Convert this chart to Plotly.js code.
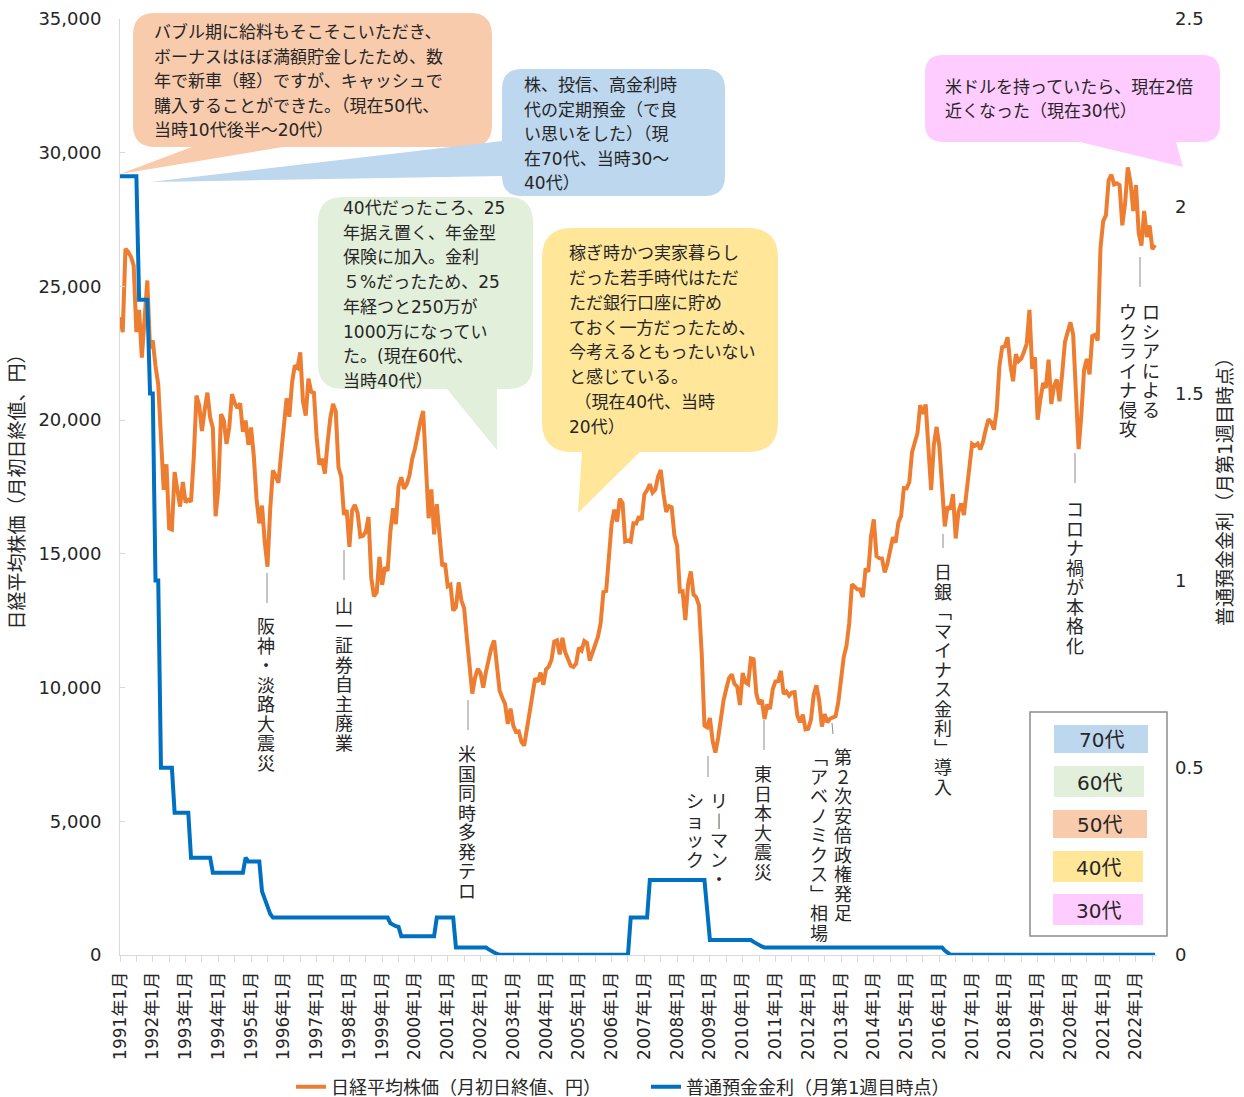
<!DOCTYPE html>
<html>
<head>
<meta charset="utf-8">
<script src="https://cdn.plot.ly/plotly-3.0.1.min.js"></script>
<style>
html,body{margin:0;padding:0;background:#fff;}
#chart{width:1244px;height:1097px;}
</style>
</head>
<body>
<div id="chart"></div>
<script>
// ---------------- DATA ----------------
// Nikkei 225, value at the start of each month (yen), Jan 1991 - Aug 2022
const nikkei1990s = [
  23849, 23293, 26409, 26292, 26111, 25790, 23291, 24120, 22335, 23916, 25222, 22687, // 1991
  22984, 22023, 21339, 19346, 17391, 18348, 15952, 15910, 18061, 17399, 16767, 17684, // 1992
  16925, 17023, 16953, 18591, 20919, 20552, 19590, 20380, 21028, 20106, 19703, 16408, // 1993
  17417, 20229, 19997, 19112, 19725, 20974, 20644, 20449, 20629, 19564, 19989, 19076, // 1994
  19723, 18650, 17053, 16140, 16807, 15437, 14517, 16678, 18117, 17913, 17655, 18744, // 1995
  19868, 20813, 20125, 21407, 22041, 21956, 22531, 20693, 20167, 21556, 21062, 21020, // 1996
  19361, 18330, 18557, 18003, 19151, 20069, 20605, 20331, 18229, 17888, 16459, 16636, // 1997
  15259, 16628, 16831, 16527, 15641, 15671, 15830, 16379, 14108, 13406, 13564, 14884, // 1998
  13842, 14499, 14368, 15837, 16702, 16112, 17530, 17862, 17437, 17606, 17942, 18558  // 1999
];
const nikkei2000s = [
  18934, 19540, 19960, 20337, 17974, 16332, 17411, 15727, 16861, 15747, 14539, 14649, // 2000
  13785, 13843, 12883, 12999, 13934, 13262, 12969, 11860, 10713,  9775, 10366, 10697, // 2001
  10543,  9997, 10588, 11025, 11493, 11764, 10622,  9878,  9620,  9383,  8640,  9216, // 2002
   8579,  8340,  8363,  7973,  7831,  8425,  9083,  9563, 10344, 10219, 10560, 10101, // 2003
  10677, 10784, 11042, 11715, 11762, 11237, 11859, 11326, 11082, 10824, 10771, 10899, // 2004
  11489, 11388, 11741, 11669, 11009, 11277, 11584, 11900, 12414, 13574, 13607, 14872, // 2005
  16111, 16650, 16205, 17060, 16906, 15467, 15505, 15457, 16141, 16128, 16399, 16274, // 2006
  17226, 17383, 17604, 17288, 17400, 17876, 18138, 17249, 16569, 16786, 16738, 15681, // 2007
  15308, 13592, 13603, 12526, 13850, 14339, 13481, 13377, 13073, 11260,  8577,  8512, // 2008
   8860,  7994,  7568,  8110,  8828,  9523,  9958, 10357, 10493, 10133, 10035,  9346  // 2009
];
const nikkei2010s = [
  10546, 10198, 10126, 11090, 11057,  9769,  9383,  9537,  8824,  9369,  9202,  9937, // 2010
  10229, 10238, 10624,  9755,  9850,  9694,  9816,  9833,  8955,  8700,  8988,  8434, // 2011
   8455,  8803,  9723, 10084,  9521,  8543,  9007,  8695,  8840,  8870,  8928,  9446, // 2012
  10395, 11139, 11559, 12398, 13861, 13775, 13677, 13668, 13389, 14456, 14328, 15662, // 2013
  16291, 14915, 14841, 14828, 14304, 14632, 15162, 15621, 15425, 16174, 16414, 17460, // 2014
  17451, 17674, 18798, 19207, 19520, 20563, 20236, 20585, 18890, 17388, 19083, 19747, // 2015
  19034, 17518, 16027, 16759, 16666, 17235, 15576, 16569, 16887, 16450, 17425, 18308, // 2016
  19114, 19041, 19119, 18909, 19197, 19651, 20033, 19925, 19646, 20356, 22012, 22725, // 2017
  22765, 23098, 22068, 21454, 22468, 22202, 22305, 22554, 22865, 24120, 21920, 22351, // 2018
  20015, 20773, 21385, 21206, 22259, 20601, 21276, 21521, 20704, 21756, 22927, 23294  // 2019
];
const nikkei2020s = [
  23657, 23205, 21143, 18917, 20194, 21878, 22288, 21710, 23140, 23185, 22977, 26434, // 2020
  27444, 27663, 28966, 29179, 28813, 28860, 28792, 27284, 28090, 29453, 28893, 27822, // 2021
  28792, 27002, 26527, 27821, 26848, 27280, 26393, 26550                              // 2022
];

// Ordinary deposit interest rate (%), first week of each month
const rate1990s = [
  2.08, 2.08, 2.08, 2.08, 2.08, 2.08, 2.08, 1.75, 1.75, 1.75, 1.75, 1.5,  // 1991
  1.5, 1.0, 1.0, 0.5, 0.5, 0.5, 0.5, 0.5, 0.38, 0.38, 0.38, 0.38,        // 1992
  0.38, 0.38, 0.26, 0.26, 0.26, 0.26, 0.26, 0.26, 0.26, 0.26, 0.22, 0.22, // 1993
  0.22, 0.22, 0.22, 0.22, 0.22, 0.22, 0.22, 0.22, 0.22, 0.22, 0.26, 0.25, // 1994
  0.25, 0.25, 0.25, 0.25, 0.17, 0.15, 0.13, 0.11, 0.1, 0.1, 0.1, 0.1,     // 1995
  0.1, 0.1, 0.1, 0.1, 0.1, 0.1, 0.1, 0.1, 0.1, 0.1, 0.1, 0.1,             // 1996
  0.1, 0.1, 0.1, 0.1, 0.1, 0.1, 0.1, 0.1, 0.1, 0.1, 0.1, 0.1,             // 1997
  0.1, 0.1, 0.1, 0.1, 0.1, 0.1, 0.1, 0.1, 0.1, 0.1, 0.1, 0.1,             // 1998
  0.1, 0.1, 0.1, 0.085, 0.08, 0.077, 0.075, 0.05, 0.05, 0.05, 0.05, 0.05  // 1999
];
const rate2000s = [
  0.05, 0.05, 0.05, 0.05, 0.05, 0.05, 0.05, 0.05, 0.1, 0.1, 0.1, 0.1,                 // 2000
  0.1, 0.1, 0.1, 0.02, 0.02, 0.02, 0.02, 0.02, 0.02, 0.02, 0.02, 0.02,                // 2001
  0.02, 0.02, 0.02, 0.015, 0.01, 0.006, 0.003, 0.001, 0.001, 0.001, 0.001, 0.001,     // 2002
  0.001, 0.001, 0.001, 0.001, 0.001, 0.001, 0.001, 0.001, 0.001, 0.001, 0.001, 0.001, // 2003
  0.001, 0.001, 0.001, 0.001, 0.001, 0.001, 0.001, 0.001, 0.001, 0.001, 0.001, 0.001, // 2004
  0.001, 0.001, 0.001, 0.001, 0.001, 0.001, 0.001, 0.001, 0.001, 0.001, 0.001, 0.001, // 2005
  0.001, 0.001, 0.001, 0.001, 0.001, 0.001, 0.001, 0.1, 0.1, 0.1, 0.1, 0.1,           // 2006
  0.1, 0.1, 0.2, 0.2, 0.2, 0.2, 0.2, 0.2, 0.2, 0.2, 0.2, 0.2,                         // 2007
  0.2, 0.2, 0.2, 0.2, 0.2, 0.2, 0.2, 0.2, 0.2, 0.2, 0.2, 0.12,                        // 2008
  0.04, 0.04, 0.04, 0.04, 0.04, 0.04, 0.04, 0.04, 0.04, 0.04, 0.04, 0.04              // 2009
];
const rate2010s = [
  0.04, 0.04, 0.04, 0.04, 0.035, 0.03, 0.026, 0.023, 0.02, 0.02, 0.02, 0.02,          // 2010
  0.02, 0.02, 0.02, 0.02, 0.02, 0.02, 0.02, 0.02, 0.02, 0.02, 0.02, 0.02,             // 2011
  0.02, 0.02, 0.02, 0.02, 0.02, 0.02, 0.02, 0.02, 0.02, 0.02, 0.02, 0.02,             // 2012
  0.02, 0.02, 0.02, 0.02, 0.02, 0.02, 0.02, 0.02, 0.02, 0.02, 0.02, 0.02,             // 2013
  0.02, 0.02, 0.02, 0.02, 0.02, 0.02, 0.02, 0.02, 0.02, 0.02, 0.02, 0.02,             // 2014
  0.02, 0.02, 0.02, 0.02, 0.02, 0.02, 0.02, 0.02, 0.02, 0.02, 0.02, 0.02,             // 2015
  0.02, 0.02, 0.012, 0.005, 0.001, 0.001, 0.001, 0.001, 0.001, 0.001, 0.001, 0.001,   // 2016
  0.001, 0.001, 0.001, 0.001, 0.001, 0.001, 0.001, 0.001, 0.001, 0.001, 0.001, 0.001, // 2017
  0.001, 0.001, 0.001, 0.001, 0.001, 0.001, 0.001, 0.001, 0.001, 0.001, 0.001, 0.001, // 2018
  0.001, 0.001, 0.001, 0.001, 0.001, 0.001, 0.001, 0.001, 0.001, 0.001, 0.001, 0.001  // 2019
];
const rate2020s = [
  0.001, 0.001, 0.001, 0.001, 0.001, 0.001, 0.001, 0.001, 0.001, 0.001, 0.001, 0.001, // 2020
  0.001, 0.001, 0.001, 0.001, 0.001, 0.001, 0.001, 0.001, 0.001, 0.001, 0.001, 0.001, // 2021
  0.001, 0.001, 0.001, 0.001, 0.001, 0.001, 0.001, 0.001                              // 2022
];

const tickLabels = [
  '1991年1月','1992年1月','1993年1月','1994年1月','1995年1月','1996年1月','1997年1月','1998年1月',
  '1999年1月','2000年1月','2001年1月','2002年1月','2003年1月','2004年1月','2005年1月','2006年1月',
  '2007年1月','2008年1月','2009年1月','2010年1月','2011年1月','2012年1月','2013年1月','2014年1月',
  '2015年1月','2016年1月','2017年1月','2018年1月','2019年1月','2020年1月','2021年1月','2022年1月'
];
const seriesNames = ['日経平均株価（月初日終値、円）', '普通預金金利（月第1週目時点）'];
const ageGroups = ['70代', '60代', '50代', '40代', '30代'];

// ---------------- BUILD ----------------
const nikkei = [].concat(nikkei1990s, nikkei2000s, nikkei2010s, nikkei2020s);
const rate = [].concat(rate1990s, rate2000s, rate2010s, rate2020s);
const monthIdx = nikkei.map((_, i) => i);
const tickVals = tickLabels.map((_, i) => i * 12);

const FONT = 'DejaVu Sans, "Noto Sans CJK JP", sans-serif';
const TXT = '#262626';

// plot-area pixel frame -> paper coordinates
const PL = 120, PR = 1157, PT = 19, PB = 955;
const X = px => +((px - PL) / (PR - PL)).toFixed(5);
const Y = py => +((PB - py) / (PB - PT)).toFixed(5);

function bubblePath(b) {
  const {x0, y0, x1, y1, r, edge, t1, t2, tx, ty} = b;
  const p = [];
  p.push(`M ${X(x0 + r)} ${Y(y0)}`);
  p.push(`L ${X(x1 - r)} ${Y(y0)}`);
  p.push(`Q ${X(x1)} ${Y(y0)} ${X(x1)} ${Y(y0 + r)}`);
  p.push(`L ${X(x1)} ${Y(y1 - r)}`);
  p.push(`Q ${X(x1)} ${Y(y1)} ${X(x1 - r)} ${Y(y1)}`);
  if (edge === 'bottom') {
    p.push(`L ${X(t2)} ${Y(y1)}`);
    p.push(`L ${X(tx)} ${Y(ty)}`);
    p.push(`L ${X(t1)} ${Y(y1)}`);
  }
  p.push(`L ${X(x0 + r)} ${Y(y1)}`);
  p.push(`Q ${X(x0)} ${Y(y1)} ${X(x0)} ${Y(y1 - r)}`);
  if (edge === 'left') {
    p.push(`L ${X(x0)} ${Y(t2)}`);
    p.push(`L ${X(tx)} ${Y(ty)}`);
    p.push(`L ${X(x0)} ${Y(t1)}`);
  }
  p.push(`L ${X(x0)} ${Y(y0 + r)}`);
  p.push(`Q ${X(x0)} ${Y(y0)} ${X(x0 + r)} ${Y(y0)}`);
  p.push('Z');
  return p.join(' ');
}

const bubbles = [
  { color: '#F8CBAD', x0: 133, y0: 13, x1: 492, y1: 147, r: 22, edge: 'bottom', t1: 192, t2: 283, tx: 120, ty: 174,
    tx0: 153, lines: ['バブル期に給料もそこそこいただき、','ボーナスはほぼ満額貯金したため、数','年で新車（軽）ですが、キャッシュで','購入することができた。（現在50代、','当時10代後半～20代）'],
    top: 32, bottom: 130 },
  { color: '#BDD7EE', x0: 502, y0: 69, x1: 725, y1: 196, r: 20, edge: 'left', t1: 141, t2: 176, tx: 150, ty: 182,
    tx0: 523, lines: ['株、投信、高金利時','代の定期預金（で良','い思いをした）（現','在70代、当時30～','40代）'],
    top: 85, bottom: 183 },
  { color: '#E2EFDA', x0: 318, y0: 197, x1: 533, y1: 389, r: 25, edge: 'bottom', t1: 447, t2: 497, tx: 497, ty: 450,
    tx0: 342, lines: ['40代だったころ、25','年据え置く、年金型','保険に加入。金利','５%だったため、25','年経つと250万が','1000万になってい','た。(現在60代、','当時40代）'],
    top: 208, bottom: 381 },
  { color: '#FFE699', x0: 542, y0: 228, x1: 778, y1: 452, r: 30, edge: 'bottom', t1: 582, t2: 640, tx: 578, ty: 513,
    tx0: 568, lines: ['稼ぎ時かつ実家暮らし','だった若手時代はただ','ただ銀行口座に貯め','ておく一方だったため、','今考えるともったいない','と感じている。','\u00a0（現在40代、当時','20代）'],
    top: 253, bottom: 427 },
  { color: '#FFCCFF', x0: 925, y0: 55, x1: 1220, y1: 142, r: 18, edge: 'bottom', t1: 1080, t2: 1176, tx: 1183, ty: 167,
    tx0: 944, lines: ['米ドルを持っていたら、現在2倍','近くなった（現在30代）'],
    top: 87, bottom: 111 }
];

// vertical event labels: columns (written top->bottom), leader lines
const events = [
  { cols: [{x: 266, t: '阪神・淡路大震災'}], top: 615, line: [267, 573, 267, 603] },
  { cols: [{x: 344, t: '山一証券自主廃業'}], top: 595, line: [344, 550, 344, 580] },
  { cols: [{x: 467, t: '米国同時多発テロ'}], top: 743, line: [468, 700, 468, 730] },
  { cols: [{x: 719, t: 'リ︱マン・'}, {x: 695, t: 'ショック'}], top: 790, line: [708, 756, 708, 777] },
  { cols: [{x: 763, t: '東日本大震災'}], top: 763, line: [764, 720, 764, 750] },
  { cols: [{x: 843, t: '第２次安倍政権発足'}, {x: 819, t: '﹁アベノミクス﹂相場'}], top: 746, line: [832, 723, 833, 734] },
  { cols: [{x: 943, t: '日銀﹁マイナス金利﹂導入'}], top: 561, line: [943, 534, 943, 548] },
  { cols: [{x: 1075, t: 'コロナ禍が本格化'}], top: 498, line: [1075, 453, 1075, 483] },
  { cols: [{x: 1151, t: 'ロシアによる'}, {x: 1128, t: 'ウクライナ侵攻'}], top: 301, line: [1140, 257, 1140, 287] }
];

const ageBoxes = [
  { c: '#BDD7EE', x0: 1054, x1: 1148, y0: 725, y1: 753 },
  { c: '#E2EFDA', x0: 1054, x1: 1144, y0: 766, y1: 797 },
  { c: '#F8CBAD', x0: 1053, x1: 1147, y0: 810, y1: 838 },
  { c: '#FFE699', x0: 1053, x1: 1143, y0: 851, y1: 882 },
  { c: '#FFCCFF', x0: 1053, x1: 1143, y0: 894, y1: 925 }
];

const shapes = [];
const annotations = [];

// line pitch in Plotly = 1.3 x base font size; glyphs are sized via span
bubbles.forEach(b => {
  shapes.push({ type: 'path', xref: 'paper', yref: 'paper', path: bubblePath(b),
    fillcolor: b.color, line: { width: 0 }, layer: 'below' });
  const pitch = (b.bottom - b.top) / Math.max(1, b.lines.length - 1);
  annotations.push({ xref: 'paper', yref: 'paper', x: X(b.tx0), y: Y((b.top + b.bottom) / 2),
    xanchor: 'left', yanchor: 'middle', showarrow: false, align: 'left', borderpad: 0,
    text: b.lines.map(t => `<span style="font-size:17px">${t}</span>`).join('<br>'),
    font: { family: FONT, size: (b.lines.length > 1 ? pitch / 1.3 : 17), color: TXT } });
});

events.forEach(e => {
  shapes.push({ type: 'line', xref: 'paper', yref: 'paper',
    x0: X(e.line[0]), y0: Y(e.line[1]), x1: X(e.line[2]), y1: Y(e.line[3]),
    line: { color: '#8c8c8c', width: 1 } });
  e.cols.forEach(c => {
    annotations.push({ xref: 'paper', yref: 'paper', x: X(c.x), y: Y(e.top),
      xanchor: 'center', yanchor: 'top', showarrow: false, align: 'center', borderpad: 0,
      text: Array.from(c.t).map(ch => `<span style="font-size:18px">${ch}</span>`).join('<br>'),
      font: { family: FONT, size: 15, color: TXT } });
  });
});

// age colour key box
shapes.push({ type: 'rect', xref: 'paper', yref: 'paper', x0: X(1030), x1: X(1167), y0: Y(712), y1: Y(936),
  line: { color: '#8c8c8c', width: 1.5 }, fillcolor: 'rgba(255,255,255,1)', layer: 'above' });
ageBoxes.forEach((a, i) => {
  shapes.push({ type: 'rect', xref: 'paper', yref: 'paper', x0: X(a.x0), x1: X(a.x1), y0: Y(a.y0), y1: Y(a.y1),
    line: { width: 0 }, fillcolor: a.c, layer: 'above' });
  annotations.push({ xref: 'paper', yref: 'paper', x: X((a.x0 + a.x1) / 2), y: Y((a.y0 + a.y1) / 2 + 1),
    xanchor: 'center', yanchor: 'middle', showarrow: false, text: ageGroups[i],
    font: { family: FONT, size: 20, color: TXT } });
});

const traces = [
  { type: 'scatter', mode: 'lines', x: monthIdx, y: nikkei, name: seriesNames[0], yaxis: 'y',
    line: { color: '#ED7D31', width: 4 }, hoverinfo: 'skip' },
  { type: 'scatter', mode: 'lines', x: monthIdx, y: rate, name: seriesNames[1], yaxis: 'y2',
    line: { color: '#0070C0', width: 4 }, hoverinfo: 'skip' }
];

const layout = {
  width: 1244, height: 1097,
  margin: { l: PL, r: 1244 - PR, t: PT, b: 1097 - PB, pad: 0, autoexpand: false },
  paper_bgcolor: '#ffffff', plot_bgcolor: 'rgba(0,0,0,0)',
  font: { family: FONT, color: TXT, size: 17 },
  showlegend: true,
  legend: { orientation: 'h', x: X(291), xanchor: 'left', y: Y(1087), yanchor: 'middle',
    font: { family: FONT, size: 18, color: TXT }, entrywidth: 310, entrywidthmode: 'pixels',
    bgcolor: 'rgba(0,0,0,0)', itemclick: false },
  xaxis: {
    range: [0, 379.7], tickmode: 'array', tickvals: tickVals, ticktext: tickLabels, tickangle: -90,
    ticks: 'outside', ticklen: 6, tickcolor: '#d9d9d9', showline: true, linecolor: '#d9d9d9', linewidth: 1,
    showgrid: false, zeroline: false, ticklabelstandoff: 3,
    minor: { tickmode: 'linear', tick0: 0, dtick: 6, ticks: 'outside', ticklen: 6, tickcolor: '#d9d9d9', showgrid: false },
    tickfont: { family: FONT, size: 17, color: TXT }
  },
  yaxis: {
    range: [0, 35000], tickmode: 'linear', tick0: 0, dtick: 5000, tickformat: ',d',
    ticks: 'inside', ticklen: 5, tickcolor: '#d9d9d9', showline: true, linecolor: '#d9d9d9', linewidth: 1,
    showgrid: false, zeroline: false, ticklabelstandoff: 14,
    tickfont: { family: FONT, size: 18, color: TXT },
    title: { text: seriesNames[0], font: { family: FONT, size: 19, color: TXT }, standoff: 8 }
  },
  yaxis2: {
    overlaying: 'y', side: 'right', range: [0, 2.5], tickmode: 'linear', tick0: 0, dtick: 0.5,
    showline: false, showgrid: false, zeroline: false, ticks: '', ticklabelstandoff: 17,
    tickfont: { family: FONT, size: 18, color: TXT },
    title: { text: seriesNames[1], font: { family: FONT, size: 19, color: TXT }, standoff: 16 }
  },
  shapes: shapes,
  annotations: annotations
};

Plotly.newPlot('chart', traces, layout, { displayModeBar: false, staticPlot: true });
</script>
</body>
</html>
